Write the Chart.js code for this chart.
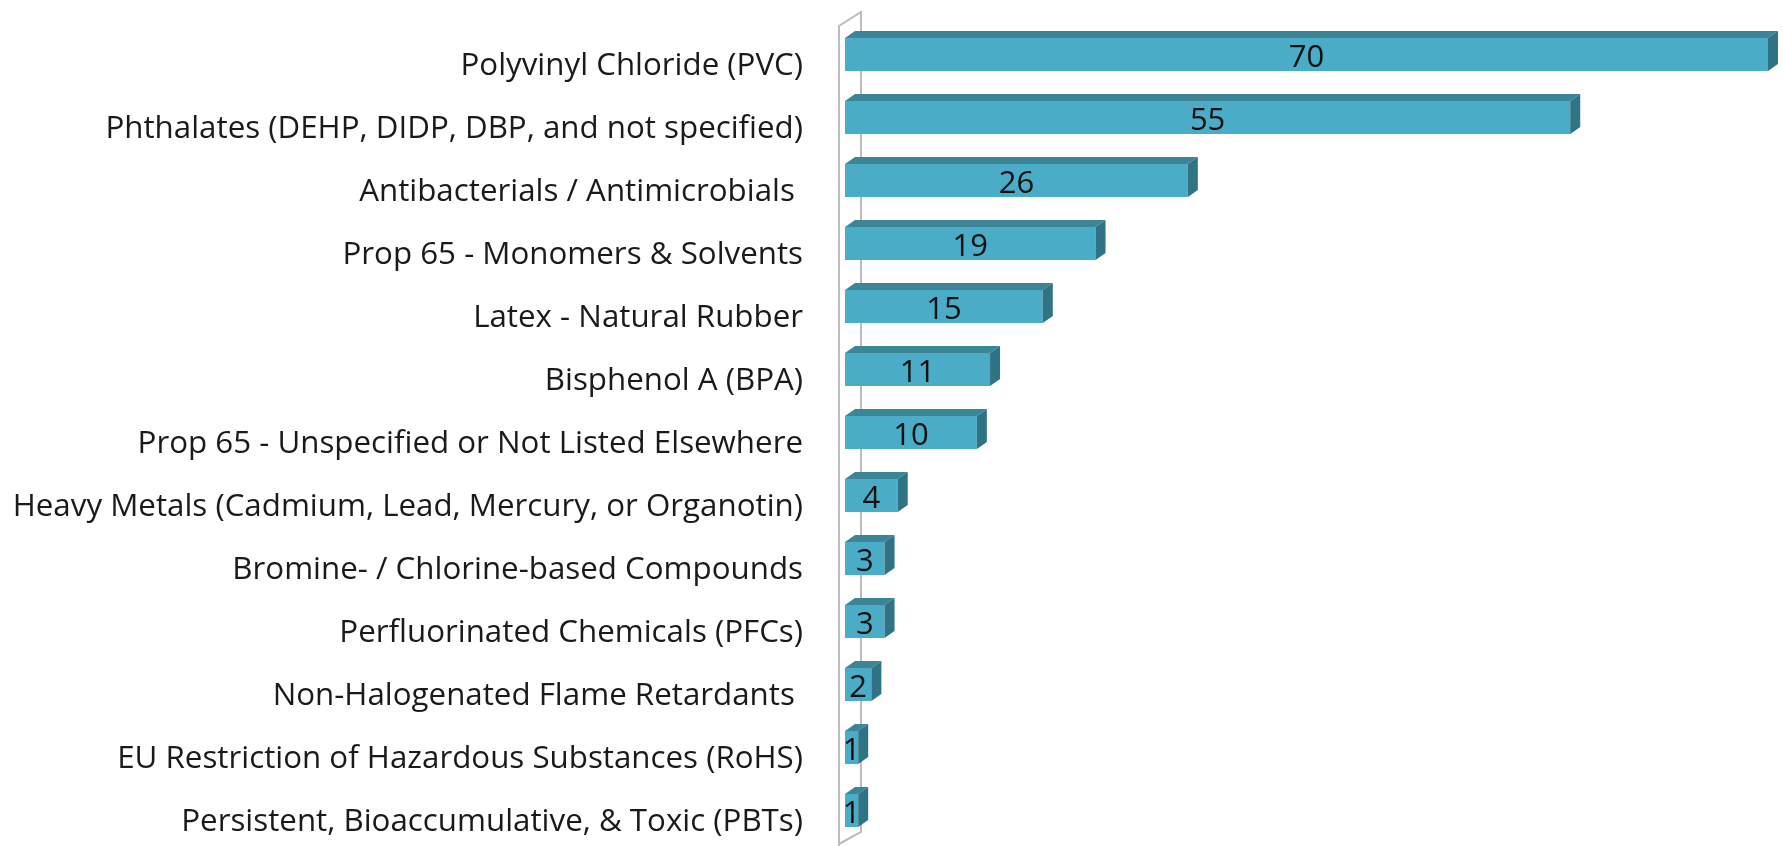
<!DOCTYPE html>
<html>
<head>
<meta charset="utf-8">
<script src="https://cdn.jsdelivr.net/npm/chart.js@4.4.1/dist/chart.umd.min.js"></script>
<style>
    body { margin: 0; background: #ffffff; }
    #wrap { width: 1783px; height: 846px; }
</style>
</head>
<body>
<div id="wrap"><canvas id="chemChart"></canvas></div>
<script>
const categories = [
    "Polyvinyl Chloride (PVC)",
    "Phthalates (DEHP, DIDP, DBP, and not specified)",
    "Antibacterials / Antimicrobials ",
    "Prop 65 - Monomers & Solvents",
    "Latex - Natural Rubber",
    "Bisphenol A (BPA)",
    "Prop 65 - Unspecified or Not Listed Elsewhere",
    "Heavy Metals (Cadmium, Lead, Mercury, or Organotin)",
    "Bromine- / Chlorine-based Compounds",
    "Perfluorinated Chemicals (PFCs)",
    "Non-Halogenated Flame Retardants ",
    "EU Restriction of Hazardous Substances (RoHS)",
    "Persistent, Bioaccumulative, & Toxic (PBTs)"
];
const counts = [70, 55, 26, 19, 15, 11, 10, 4, 3, 3, 2, 1, 1];

const frontColor = "#4aacc6";
const topColor = "#3b8597";
const sideColor = "#307385";
const wallColor = "#bcbcbc";
const depthX = 10;
const depthY = 7;

const wallPlugin = {
    id: "wall",
    beforeDatasetsDraw(chart) {
        const ctx = chart.ctx;
        const area = chart.chartArea;
        let fx = area.left - 6;
        let bx = area.left + 16;
        ctx.save();
        ctx.strokeStyle = wallColor;
        ctx.lineWidth = 2;
        ctx.beginPath();
        ctx.moveTo(fx, chart.height);
        ctx.lineTo(fx, area.top + 3);
        ctx.lineTo(bx, area.top - 11);
        ctx.lineTo(bx, area.bottom - 10);
        ctx.lineTo(fx, area.bottom + 2);
        ctx.stroke();
        ctx.restore();
    }
};

const boxPlugin = {
    id: "box3d",
    afterDatasetsDraw(chart) {
        const ctx = chart.ctx;
        const meta = chart.getDatasetMeta(0);
        ctx.save();
        meta.data.forEach((bar, i) => {
            let top = bar.y - bar.height / 2;
            let bottom = bar.y + bar.height / 2;
            let left = bar.base;
            let right = bar.x;

            ctx.fillStyle = topColor;
            ctx.beginPath();
            ctx.moveTo(left, top);
            ctx.lineTo(right, top);
            ctx.lineTo(right + depthX, top - depthY);
            ctx.lineTo(left + depthX, top - depthY);
            ctx.closePath();
            ctx.fill();

            ctx.fillStyle = sideColor;
            ctx.beginPath();
            ctx.moveTo(right, top);
            ctx.lineTo(right + depthX, top - depthY);
            ctx.lineTo(right + depthX, bottom - depthY);
            ctx.lineTo(right, bottom);
            ctx.closePath();
            ctx.fill();

            ctx.fillStyle = "#111111";
            ctx.font = "31px 'Open Sans'";
            ctx.textAlign = "center";
            ctx.textBaseline = "middle";
            ctx.fillText(String(counts[i]), (left + right) / 2, bar.y + 4);
        });
        ctx.restore();
    }
};

const data = {
    labels: categories,
    datasets: [
        {
            label: "Count",
            data: counts,
            backgroundColor: frontColor,
            borderWidth: 0,
            categoryPercentage: 1,
            barPercentage: 0.525
        }
    ]
};

const config = {
    type: "bar",
    data: data,
    options: {
        indexAxis: "y",
        responsive: true,
        maintainAspectRatio: false,
        animation: false,
        layout: {
            padding: { left: 0, right: 15, top: 23, bottom: 4 }
        },
        scales: {
            x: {
                display: false,
                min: 0,
                max: 70
            },
            y: {
                grid: { display: false, drawTicks: false },
                border: { display: false },
                ticks: {
                    color: "#1a1a1a",
                    font: { family: "'Open Sans'", size: 31.3 },
                    padding: 42,
                    labelOffset: 12,
                    autoSkip: false
                },
                afterFit: scale => {
                    scale.width = 845;
                    scale.paddingTop = 0;
                    scale.paddingBottom = 0;
                }
            }
        },
        plugins: {
            legend: { display: false },
            tooltip: { enabled: false }
        }
    },
    plugins: [wallPlugin, boxPlugin]
};

const chart = new Chart(document.getElementById("chemChart"), config);
</script>
</body>
</html>
